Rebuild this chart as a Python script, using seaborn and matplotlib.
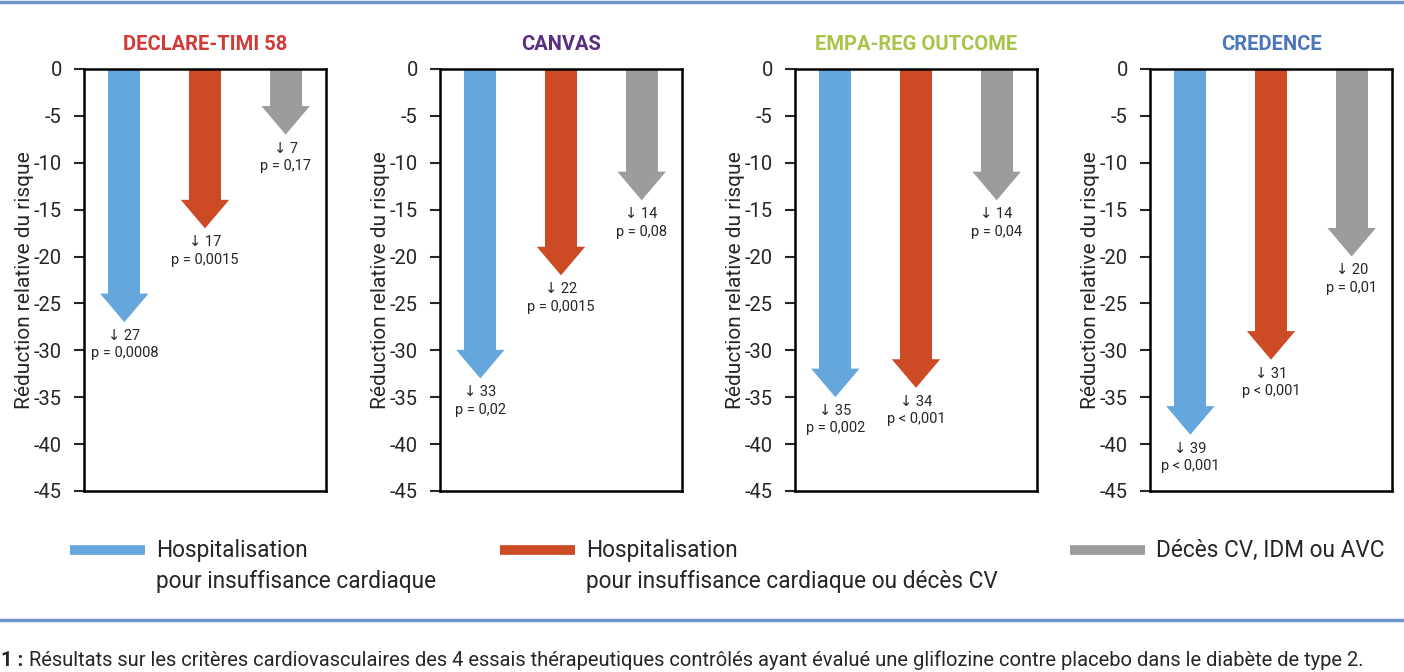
"""
Gliflozines - critères cardiovasculaires des 4 essais (flèches de réduction du risque)
"""

import numpy as np
import pandas as pd
import matplotlib
matplotlib.use("Agg")
import matplotlib.pyplot as plt
import seaborn as sns
from matplotlib.lines import Line2D

# --- Données ---
trials = ["DECLARE-TIMI 58", "CANVAS", "EMPA-REG OUTCOME", "CREDENCE"]
title_colors = ["#d13b36", "#5a2e84", "#a6c54a", "#4b76b9"]

endpoints = ["hic", "hic_dcv", "mace"]
endpoint_labels = ["Hospitalisation\npour insuffisance cardiaque",
                   "Hospitalisation\npour insuffisance cardiaque ou décès CV",
                   "Décès CV, IDM ou AVC"]
endpoint_colors = ["#65a7dd", "#cc4b24", "#9c9c9c"]

declare_rrr = [27, 17, 7]
canvas_rrr = [33, 22, 14]
empa_rrr = [35, 34, 14]
credence_rrr = [39, 31, 20]

declare_p = ["p = 0,0008", "p = 0,0015", "p = 0,17"]
canvas_p = ["p = 0,02", "p = 0,0015", "p = 0,08"]
empa_p = ["p = 0,002", "p < 0,001", "p = 0,04"]
credence_p = ["p < 0,001", "p < 0,001", "p = 0,01"]

yticks = list(range(0, -50, -5))

caption_num = "1 :"
caption = ("Résultats sur les critères cardiovasculaires des 4 essais thérapeutiques "
           "contrôlés ayant évalué une gliflozine contre placebo dans le diabète de type 2.")

rows = []
for t, vals, ps in zip(trials, [declare_rrr, canvas_rrr, empa_rrr, credence_rrr],
                       [declare_p, canvas_p, empa_p, credence_p]):
    for e, v, p in zip(endpoints, vals, ps):
        rows.append({"trial": t, "endpoint": e, "rrr": v, "p": p})
df = pd.DataFrame(rows)

HEAD = 3.0      # longueur de la pointe (unités de l'axe)
HEAD_W = 0.3    # demi-largeur de la pointe

sns.set_theme(style="ticks")
plt.rcParams["font.family"] = ["Roboto", "DejaVu Sans"]
plt.rcParams["axes.unicode_minus"] = False

W, H = 1404, 672
fig = plt.figure(figsize=(W / 100, H / 100), dpi=100)
palette = dict(zip(endpoints, endpoint_colors))

lefts = [84, 440, 795, 1150]
for i, (t, tc) in enumerate(zip(trials, title_colors)):
    ax = fig.add_axes([lefts[i] / W, 1 - 491 / H, 242 / W, 422 / H])
    sub = df[df.trial == t].copy()
    sub["shaft"] = -(sub["rrr"] - HEAD)
    sns.barplot(data=sub, x="endpoint", y="shaft", hue="endpoint", order=endpoints,
                hue_order=endpoints, palette=palette, width=0.4, saturation=1,
                errorbar=None, legend=False, linewidth=0, ax=ax)
    for j, (v, p) in enumerate(zip(sub["rrr"], sub["p"])):
        top = -(v - HEAD) + 0.05
        ax.fill([j - HEAD_W, j + HEAD_W, j], [top, top, -v],
                color=endpoint_colors[j], lw=0)
        ax.annotate(f"↓ {v}\n{p}", xy=(j, -v), xytext=(0, -5),
                    textcoords="offset points", ha="center", va="top",
                    fontsize=10.5, linespacing=1.3)
    ax.set_xlim(-0.5, 2.5)
    ax.set_ylim(-45, 0)
    ax.set_yticks(yticks)
    ax.set_xticks([])
    ax.set_xlabel("")
    ax.set_ylabel("Réduction relative du risque", fontsize=15, labelpad=0)
    ax.tick_params(axis="y", labelsize=14.5, length=7, width=1.5, pad=9)
    for s in ax.spines.values():
        s.set_visible(True)
        s.set_linewidth(1.8)
        s.set_color("black")
    ax.set_title(t, color=tc, fontweight="bold", fontsize=14.5, pad=14)

# --- Légende ---
leg_x = [(70, 145), (500, 575), (1070, 1145)]
for (x0, x1), lab, c in zip(leg_x, endpoint_labels, endpoint_colors):
    fig.add_artist(Line2D([x0 / W, x1 / W], [1 - 550 / H] * 2, lw=7, color=c,
                          solid_capstyle="butt"))
    fig.text((x1 + 11) / W, 1 - 539 / H, lab, fontsize=16.3, va="top",
             ha="left", linespacing=1.42)

# --- Filets bleus + légende de figure ---
for yy in (2, 620):
    fig.add_artist(Line2D([0, 1], [1 - yy / H] * 2, lw=2.5, color="#6f96c9"))
fig.text(1 / W, 1 - 660 / H, caption_num, fontsize=14.5, fontweight="bold",
         va="center", ha="left")
fig.text(29 / W, 1 - 660 / H, caption, fontsize=14.5, va="center", ha="left")

plt.savefig("out.png", dpi=100)
plt.close()
